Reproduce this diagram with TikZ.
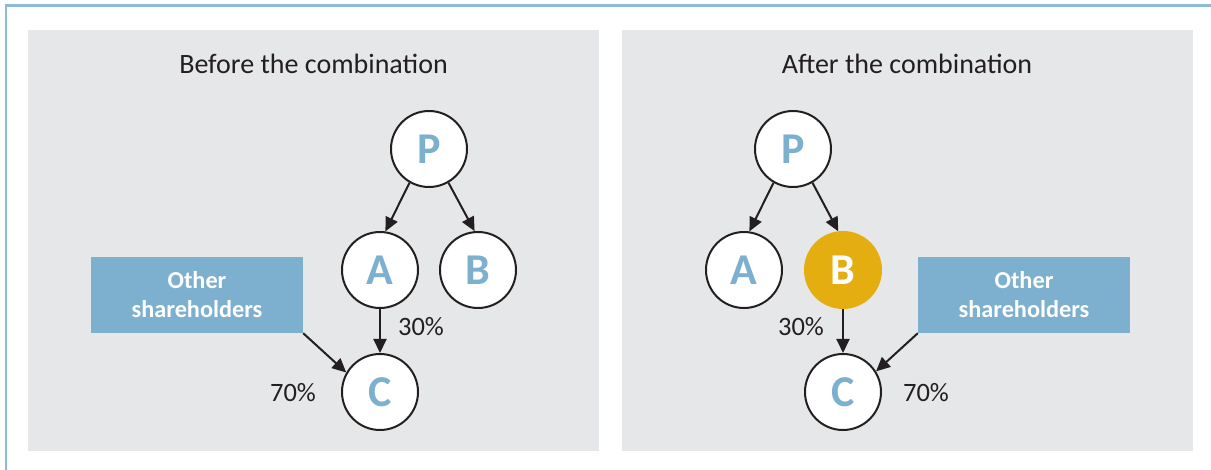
\documentclass[tikz,border=0pt]{standalone}
\usepackage{fontspec}
\setmainfont{Carlito}
\usetikzlibrary{arrows.meta}
\definecolor{frameblue}{HTML}{8CBBD9}
\definecolor{panelgrey}{HTML}{E6E7E9}
\definecolor{boxblue}{HTML}{7DB0CE}
\definecolor{letterblue}{HTML}{7DB0CE}
\definecolor{gold}{HTML}{E5AE10}
\definecolor{ink}{HTML}{231F20}
\tikzset{
  panel/.style={fill=panelgrey, draw=none},
  title/.style={text=ink, font=\fontsize{28}{33}\selectfont, inner sep=0pt},
  entity/.style={circle, draw=ink, line width=2pt, fill=white, minimum size=76pt, inner sep=0pt,
    text=letterblue, font=\bfseries\fontsize{44}{48}\selectfont},
  merged/.style={entity, draw=gold, fill=gold, text=white},
  holders/.style={rectangle, fill=boxblue, draw=none, minimum width=212pt, minimum height=76pt,
    inner sep=0pt, align=center, text=white, font=\bfseries\fontsize{24.3}{29}\selectfont},
  pct/.style={text=ink, font=\fontsize{26.5}{30}\selectfont, inner sep=0pt},
  link/.style={draw=ink, line width=2pt, -{Triangle[length=14pt,width=13pt]}},
}
\begin{document}
\begin{tikzpicture}[x=1pt,y=-1pt]
\useasboundingbox (0,0) rectangle (1211,470);
% outer frame
\draw[frameblue, line width=2.5pt] (1211,5.5) -- (6,5.5) -- (6,470);
% panels
\fill[panel] (28,30) rectangle (599,451);
\fill[panel] (622,30) rectangle (1193,451);

% ---------- Before ----------
\node[title] (t1) at (313.5,64) {Before the combination};
\node[entity] (P1) at (429,149) {P};
\node[entity] (A1) at (380,270) {A};
\node[entity] (B1) at (478,270) {B};
\node[entity] (C1) at (380,392) {C};
\node[holders] (H1) at (197,295) {Other\\shareholders};
\node[pct] (p30a) at (421,327) {30\%};
\node[pct] (p70a) at (293,393) {70\%};
\draw[link] (P1.240) -- (A1.82);
\draw[link] (P1.300) -- (B1.95);
\draw[link] (A1.south) -- (C1.north);
\draw[link] (H1.south east) -- (C1.150);

% ---------- After ----------
\node[title] (t2) at (907,64) {After the combination};
\node[entity] (P2) at (793,149) {P};
\node[entity] (A2) at (744,270) {A};
\node[merged] (B2) at (843,270) {B};
\node[entity] (C2) at (843,392) {C};
\node[holders] (H2) at (1024,295) {Other\\shareholders};
\node[pct] (p30b) at (801,327) {30\%};
\node[pct] (p70b) at (926,393) {70\%};
\draw[link] (P2.240) -- (A2.82);
\draw[link] (P2.300) -- (B2.97);
\draw[link] (B2.south) -- (C2.north);
\draw[link] (H2.south west) -- (C2.32);
\end{tikzpicture}
\end{document}
